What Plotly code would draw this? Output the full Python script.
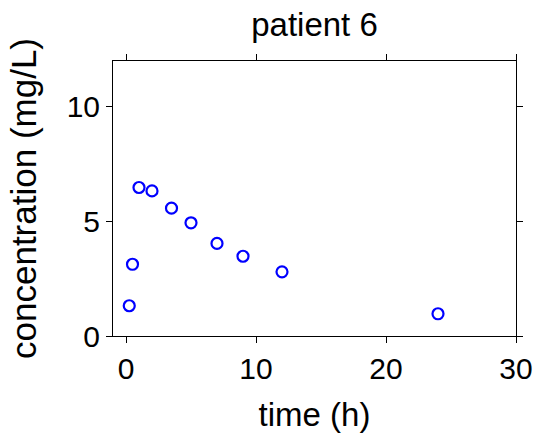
import plotly.graph_objects as go

time_h = [0.25, 0.5, 1, 2, 3.5, 5, 7, 9, 12, 24]
conc = [1.32, 3.13, 6.48, 6.33, 5.58, 4.94, 4.04, 3.48, 2.80, 0.97]
x_ticks = [0, 10, 20, 30]
y_ticks = [0, 5, 10]

FONT = "Liberation Sans, Arial, sans-serif"
W, H = 537, 433

fig = go.Figure()
fig.add_trace(go.Scatter(
    x=time_h, y=conc, mode="markers",
    marker=dict(symbol="circle-open", size=11, color="#0000ff",
                line=dict(width=2.2, color="#0000ff")),
    showlegend=False,
))

axis_common = dict(
    showgrid=False, zeroline=False, showline=True, linecolor="black",
    linewidth=1, mirror="ticks", ticks="outside", ticklen=6,
    tickcolor="black", tickwidth=1, automargin=False,
    tickfont=dict(family=FONT, size=30, color="black"),
)

fig.update_layout(
    width=W, height=H,
    margin=dict(l=113, r=21, t=61, b=97),
    paper_bgcolor="white", plot_bgcolor="white",
    title=dict(text="patient 6", x=0.5, xanchor="center", xref="paper",
               y=1 - 24 / H, yanchor="middle",
               font=dict(family=FONT, size=33, color="black")),
    xaxis=dict(range=[-1, 30], tickvals=x_ticks,
               title=dict(text="time (h)", standoff=18,
                          font=dict(family=FONT, size=33, color="black")),
               **axis_common),
    yaxis=dict(range=[0, 12], tickvals=y_ticks,
               title=dict(text="concentration (mg/L)", standoff=19,
                          font=dict(family=FONT, size=35, color="black")),
               **axis_common),
)

fig.write_html(
    "out.html",
    config={"displayModeBar": False},
    post_script="document.body.style.margin='0';document.body.style.overflow='hidden';",
)
